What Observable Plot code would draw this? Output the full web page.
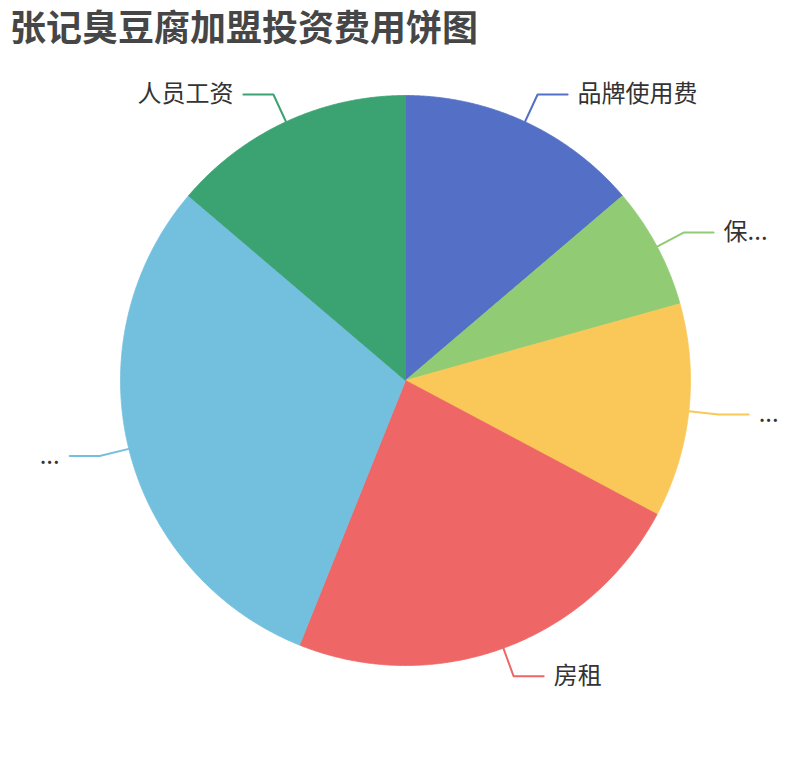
<!DOCTYPE html>
<html><head><meta charset="utf-8">
<script src="https://cdn.jsdelivr.net/npm/d3@7"></script>
<script src="https://cdn.jsdelivr.net/npm/@observablehq/plot@0.6"></script>
<style>
body{margin:0;background:#fff;font-family:"Noto Sans CJK SC",sans-serif;}
#title{height:50px;line-height:50px;padding-left:10px;font-size:36px;font-weight:bold;color:#464646;white-space:nowrap;}
</style></head><body>
<div id="title">张记臭豆腐加盟投资费用饼图</div>
<div id="chart"></div>
<script>
// Data (万元)
const labels = ["品牌使用费", "保...", "...", "房租", "...", "人员工资"];
const values = [2, 1, 1.76, 3.38, 4.38, 2];
const colors = ["#5470c6", "#91cc75", "#fac858", "#ee6666", "#73c0de", "#3ba272"];

// Layout constants
const W = 810, H = 710, cx = 405, cy = 330, R = 285, len1 = 30, len2 = 30, gap = 10;
const keys = labels.map((_, i) => i);
const total = d3.sum(values);
const pt = (a, r) => [cx + r * Math.sin(a), cy - r * Math.cos(a)];

let acc = 0;
const slicePts = [];
const linePts = [];
const textPts = [];
values.forEach((v, i) => {
  const a0 = acc / total * 2 * Math.PI;
  acc += v;
  const a1 = acc / total * 2 * Math.PI;
  const n = Math.max(2, Math.ceil((a1 - a0) / (Math.PI / 720)));
  slicePts.push({k: i, x: cx, y: cy});
  for (let j = 0; j <= n; j++) {
    const [x, y] = pt(a0 + (a1 - a0) * j / n, R);
    slicePts.push({k: i, x, y});
  }
  slicePts.push({k: i, x: cx, y: cy});
  const am = (a0 + a1) / 2;
  const right = Math.sin(am) >= 0;
  const [ex, ey] = pt(am, R);
  const [bx, by] = pt(am, R + len1);
  const hx = bx + (right ? len2 : -len2);
  linePts.push({k: i, x: ex, y: ey}, {k: i, x: bx, y: by}, {k: i, x: hx, y: by});
  textPts.push({k: i, label: labels[i], right, x: hx + (right ? gap : -gap), y: by});
});

const chart = Plot.plot({
  width: W, height: H,
  marginTop: 0, marginRight: 0, marginBottom: 0, marginLeft: 0,
  style: {fontFamily: "'Noto Sans CJK SC', sans-serif", background: "#fff"},
  x: {domain: [0, W], range: [0, W], axis: null},
  y: {domain: [0, H], range: [0, H], axis: null},
  color: {type: "ordinal", domain: keys, range: colors},
  marks: [
    Plot.line(slicePts, {x: "x", y: "y", z: "k", fill: "k", stroke: "k", strokeWidth: 0.8, curve: "linear"}),
    Plot.line(linePts, {x: "x", y: "y", z: "k", stroke: "k", strokeWidth: 2, curve: "linear"}),
    Plot.text(textPts.filter(d => d.right), {x: "x", y: "y", text: "label", textAnchor: "start", fontSize: 24, fill: "#333"}),
    Plot.text(textPts.filter(d => !d.right), {x: "x", y: "y", text: "label", textAnchor: "end", fontSize: 24, fill: "#333"})
  ]
});
document.getElementById("chart").appendChild(chart);
</script>
</body></html>
